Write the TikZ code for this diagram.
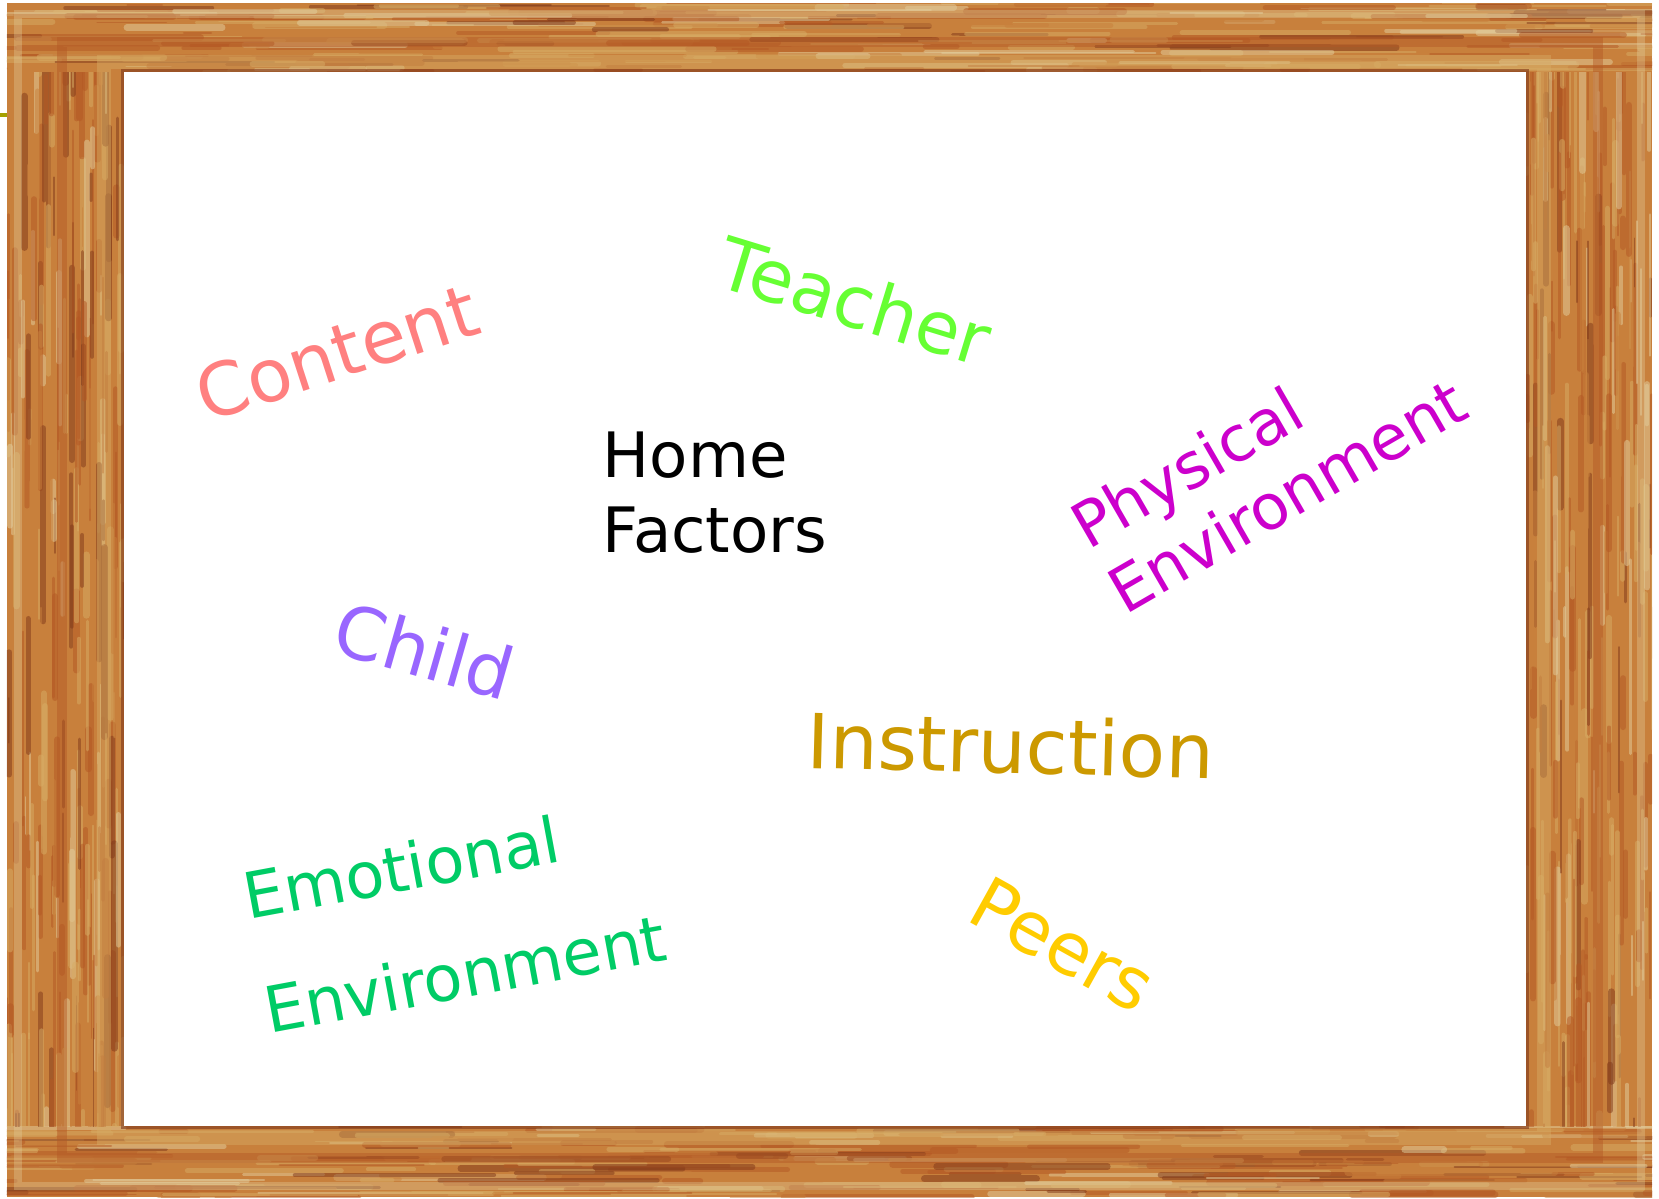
\documentclass[tikz,border=0pt]{standalone}
\usepackage{fontspec}
\setmainfont{DejaVu Sans}
\usetikzlibrary{positioning}

% wood tones of the frame
\definecolor{woodpale}{RGB}{226,206,158}
\definecolor{woodlight}{RGB}{215,172,100}
\definecolor{woodmid}{RGB}{200,128,60}
\definecolor{woodrust}{RGB}{180,88,36}
\definecolor{wooddark}{RGB}{128,56,26}
\definecolor{oliveline}{RGB}{165,160,0}
% word colours
\definecolor{contentpink}{RGB}{255,128,128}
\definecolor{teachergreen}{RGB}{102,255,51}
\definecolor{physmagenta}{RGB}{204,0,204}
\definecolor{childviolet}{RGB}{153,102,255}
\definecolor{instrgold}{RGB}{204,153,0}
\definecolor{emogreen}{RGB}{0,204,102}
\definecolor{peersyellow}{RGB}{255,204,0}

\pgfmathdeclarerandomlist{wood}{{woodpale}{woodlight}{woodmid}{woodrust}{wooddark}{woodlight}{woodmid}{woodrust}}

\tikzset{%
  word/.style      = {inner sep=0pt, anchor=base west,%
                      font=\fontsize{20.5}{24.6}\selectfont},%
  smallword/.style = {word, align=left,%
                      font=\fontsize{17.8}{21.3}\selectfont},%
  grain/.style     = {line cap=round, opacity=.5}%
}

\begin{document}
\begin{tikzpicture}[x=0.01cm, y=-0.01cm]
  \useasboundingbox (0,0) rectangle (1659,1199);
  \pgfmathsetseed{4242}
  % -------------- FRAME -----------------------------
  \coordinate (otl) at (7,3);     \coordinate (otr) at (1652,3);
  \coordinate (obr) at (1652,1197); \coordinate (obl) at (7,1197);
  \coordinate (itl) at (124,72);  \coordinate (itr) at (1526,72);
  \coordinate (ibr) at (1526,1126); \coordinate (ibl) at (124,1126);
  \fill[woodmid] (otl) rectangle (obr);
  % top and bottom rails: grain runs across
  \foreach \ya/\yb in {3/72, 1126/1197}{
    \begin{scope}
      \clip (7,\ya) rectangle (1652,\yb);
      \foreach \k in {1,...,320}{
        \pgfmathsetmacro{\yy}{\ya+(\yb-\ya)*rnd}
        \pgfmathsetmacro{\xx}{-100+1750*rnd}
        \pgfmathsetmacro{\len}{25+200*rnd}
        \pgfmathsetmacro{\lw}{0.4+1.6*rnd}
        \pgfmathrandomitem{\wc}{wood}
        \draw[grain, color=\wc, line width=\lw pt] (\xx,\yy) -- ++(\len,0);
      }
    \end{scope}
  }
  % left and right stiles: grain runs down
  \foreach \xa/\xb in {7/124, 1526/1652}{
    \begin{scope}
      \clip (\xa,72) rectangle (\xb,1126);
      \foreach \k in {1,...,320}{
        \pgfmathsetmacro{\xx}{\xa+(\xb-\xa)*rnd}
        \pgfmathsetmacro{\yy}{-100+1300*rnd}
        \pgfmathsetmacro{\len}{25+180*rnd}
        \pgfmathsetmacro{\lw}{0.4+1.6*rnd}
        \pgfmathrandomitem{\wc}{wood}
        \draw[grain, color=\wc, line width=\lw pt] (\xx,\yy) -- ++(0,\len);
      }
    \end{scope}
  }
  % mouldings
  \draw[woodpale, line width=2pt, opacity=.35] (18,14) rectangle (1641,1186);
  \draw[woodrust, line width=3pt, opacity=.45] (62,42) rectangle (1598,1158);
  \draw[woodlight, line width=4pt, opacity=.45] (104,62) rectangle (1544,1138);
  \draw[wooddark, line width=1.5pt, opacity=.6] (itl) rectangle (ibr);
  \fill[white] (itl) rectangle (ibr);
  \draw[oliveline, line width=0.9pt] (0,115) -- (7,115);
  % -------------- WORDS -----------------------------
  \node (content) [word, text=contentpink, rotate=18,
        font=\fontsize{20.8}{25}\selectfont] at (206,423) {Content};
  \node (teacher) [word, text=teachergreen, rotate=-17] at (713,285) {Teacher};
  \node (home) [smallword] at (602,552) {Home\\Factors};
  \node (physical) [smallword, text=physmagenta, rotate=30] at (1125,616)
        {Physical\\Environment};
  \node (child) [word, text=childviolet, rotate=-16] at (329,651) {Child};
  \node (instruction) [word, text=instrgold, rotate=-1.5,
        font=\fontsize{21.6}{26}\selectfont] at (806,768) {Instruction};
  \node (emotional) [smallword, text=emogreen, rotate=10.5,
        font=\fontsize{18.1}{21.6}\selectfont] at (269,1034)
        {Emotional\\[11.4pt]Environment};
  \node (peers) [word, text=peersyellow, rotate=-29] at (964,919) {Peers};
\end{tikzpicture}
\end{document}
